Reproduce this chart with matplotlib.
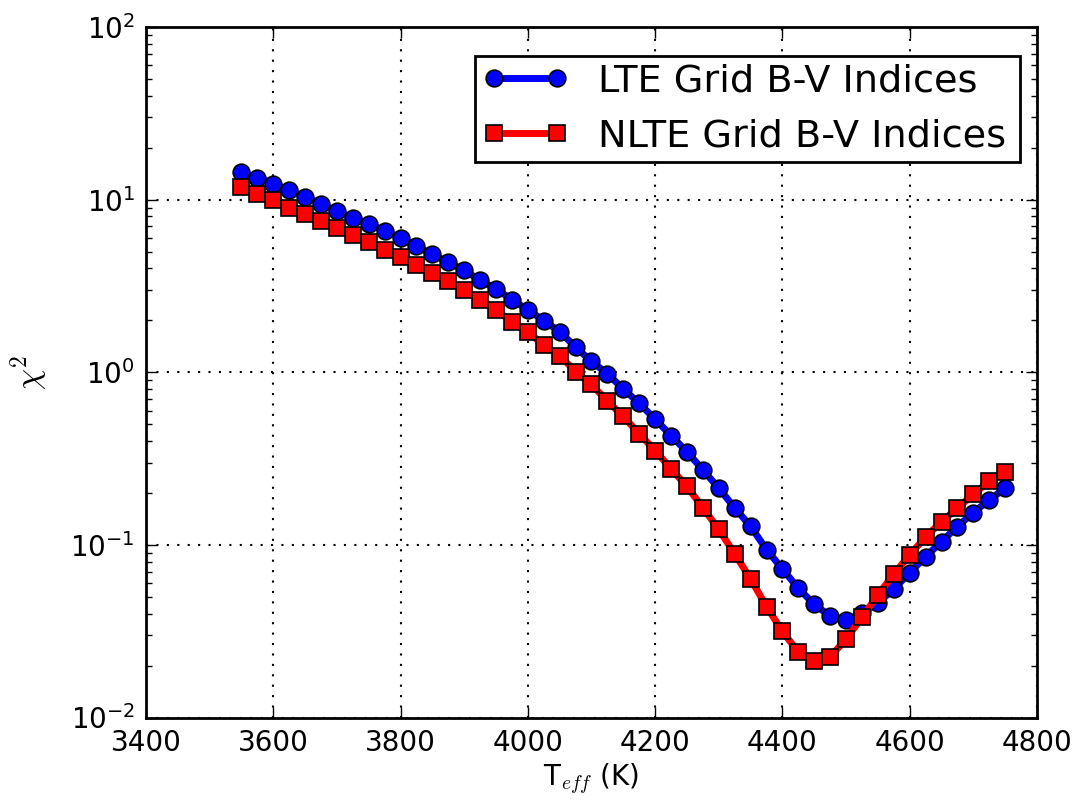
import matplotlib
matplotlib.use("Agg")
import matplotlib.pyplot as plt
import numpy as np

plt.rcParams['mathtext.fontset'] = 'cm'
plt.rcParams['font.family'] = ['DejaVu Sans']

teff = list(range(3550, 4751, 25))

lte_chi2 = [14.4, 13.4, 12.4, 11.3, 10.4, 9.44, 8.55, 7.83, 7.26, 6.59,
            6.02, 5.36, 4.82, 4.33, 3.89, 3.41, 3.04, 2.63, 2.30, 1.99,
            1.72, 1.40, 1.155, 0.98, 0.80, 0.66, 0.535, 0.43, 0.346, 0.272,
            0.213, 0.164, 0.128, 0.094, 0.0725, 0.0561, 0.0452, 0.0387, 0.0367, 0.0402,
            0.0459, 0.0556, 0.069, 0.0855, 0.1045, 0.1277, 0.154, 0.182, 0.213]

nlte_chi2 = [11.9, 10.8, 9.9, 9.0, 8.26, 7.53, 6.88, 6.24, 5.69, 5.13,
             4.65, 4.20, 3.77, 3.36, 2.98, 2.61, 2.30, 1.96, 1.71, 1.44,
             1.25, 1.01, 0.85, 0.68, 0.555, 0.44, 0.352, 0.276, 0.218, 0.164,
             0.123, 0.0887, 0.0635, 0.0439, 0.0316, 0.0239, 0.0212, 0.0225, 0.0284, 0.0381,
             0.0513, 0.0676, 0.0875, 0.111, 0.1365, 0.163, 0.197, 0.233, 0.266]

labels = ["LTE Grid B-V Indices", "NLTE Grid B-V Indices"]

fig = plt.figure(figsize=(10.91, 8.09), dpi=100)
ax = fig.add_axes([0.1338, 0.1131, 0.9505 - 0.1338, 0.9666 - 0.1131])

ax.plot(teff, lte_chi2, '-o', color='blue', lw=5, ms=12, mec='black', mew=1.2,
        label=labels[0])
ax.plot(teff, nlte_chi2, '-s', color='red', lw=5, ms=12, mec='black', mew=1.2,
        label=labels[1])

ax.set_yscale('log')
ax.set_xlim(3400, 4800)
ax.set_ylim(1e-2, 1e2)
ax.set_xticks(np.arange(3400, 4801, 200))

ax.grid(True, which='major', color='black', linestyle=(0, (1, 4)), linewidth=1.5)
for s in ax.spines.values():
    s.set_linewidth(2)
ax.tick_params(which='both', direction='in', top=True, right=True,
               labelsize=20, width=1)
ax.tick_params(which='major', length=8, pad=8)
ax.tick_params(which='minor', length=4.5)

ax.set_xlabel(r'T$_{eff}$ (K)', fontsize=20, labelpad=4)
ax.set_ylabel(r'$\chi^2$', fontsize=24, labelpad=14)

leg = ax.legend(loc='upper left', bbox_to_anchor=(0.3692, 0.5, 0.6117, 0.458),
                mode='expand', numpoints=2, fontsize=27.5, fancybox=False,
                edgecolor='black', framealpha=1, borderaxespad=0,
                borderpad=0.2, labelspacing=0.5, handlelength=2.24,
                handletextpad=0.79)
leg.get_frame().set_linewidth(2)

fig.savefig('out.png', dpi=100)
